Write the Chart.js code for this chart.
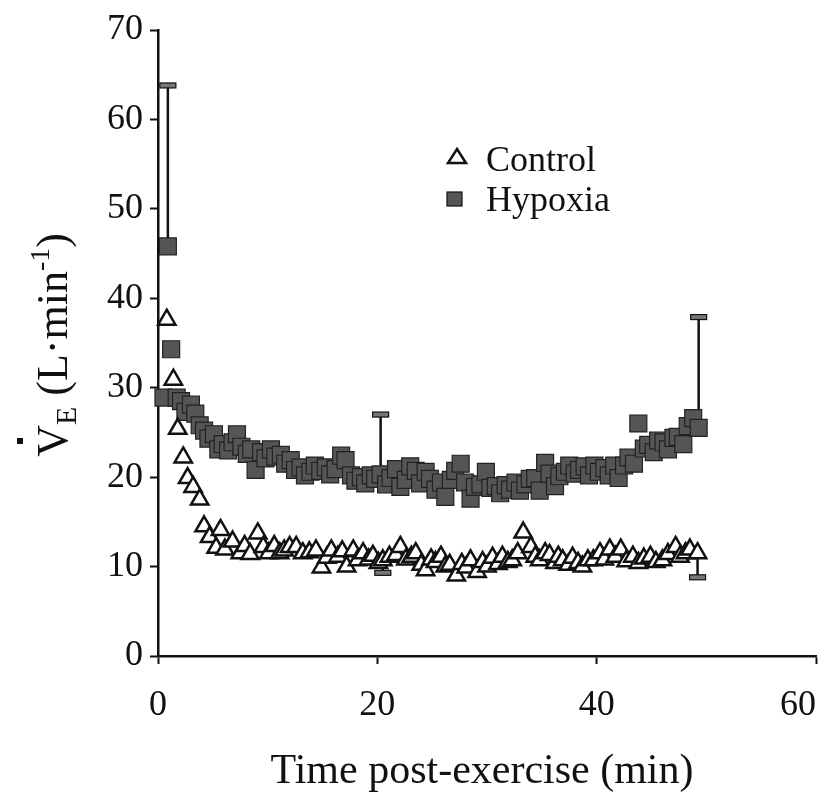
<!DOCTYPE html>
<html lang="en">
<head>
    <meta charset="UTF-8">
    <title>VE post-exercise</title>
    <script src="https://cdn.jsdelivr.net/npm/chart.js"></script>
    <style>
        body { margin: 0; background: #fff; }
    </style>
</head>
<body>
    <canvas id="veChart" width="832" height="805"></canvas>
    <script>
        // time after exercise (min) and ventilation (L/min)
        const controlTime = [0.8, 1.4, 1.8, 2.3, 2.7, 3.2, 3.8, 4.2, 4.7, 5.3, 5.7, 6.1, 6.8, 7.5, 7.9, 8.4, 9.1, 9.6, 10.1, 10.6,
            11.1, 11.5, 12.0, 12.6, 13.2, 13.8, 14.4, 14.9, 15.4, 15.8, 16.4, 16.8, 17.2, 17.8, 18.2, 18.7, 19.2, 19.6, 20.1, 20.5,
            21.1, 21.7, 22.1, 22.6, 23.1, 23.5, 24.0, 24.4, 24.9, 25.3, 25.8, 26.2, 26.6, 27.2, 27.7, 28.1, 28.5, 29.1, 29.6, 30.0,
            30.5, 31.0, 31.4, 31.9, 32.3, 32.8, 33.3, 34.0, 34.4, 34.8, 35.3, 35.7, 36.2, 36.5, 36.9, 37.4, 37.8, 38.3, 38.7, 39.2,
            39.7, 40.3, 40.7, 41.2, 41.7, 42.2, 42.7, 43.3, 43.8, 44.3, 44.9, 45.4, 46.0, 46.5, 47.2, 47.6, 48.1, 48.5, 49.2];
        const controlVE = [37.6, 30.9, 25.4, 22.2, 19.9, 18.9, 17.5, 14.5, 13.3, 12.1, 14.1, 11.9, 12.8, 11.5, 12.3, 11.4, 13.7, 12.2, 11.5, 12.3,
            11.5, 11.8, 12.2, 12.2, 11.5, 11.6, 11.8, 9.9, 11.0, 11.8, 11.1, 11.7, 10.0, 11.8, 10.7, 11.5, 10.8, 11.2, 10.4, 10.7,
            11.1, 11.3, 12.2, 10.8, 11.1, 11.5, 10.2, 9.6, 10.8, 10.5, 11.1, 10.0, 10.2, 9.0, 10.3, 9.9, 10.7, 9.4, 10.5, 10.0,
            11.0, 10.3, 11.1, 10.5, 10.7, 11.5, 13.8, 12.2, 11.1, 10.7, 11.5, 11.3, 10.4, 11.1, 10.7, 10.2, 11.0, 10.4, 10.0, 10.7,
            10.7, 11.5, 10.8, 11.9, 11.1, 11.9, 10.6, 11.1, 10.4, 10.9, 11.1, 10.5, 10.7, 11.4, 12.2, 11.1, 11.5, 11.9, 11.5];

        const hypoxiaTime = [0.5, 0.9, 1.2, 1.7, 2.1, 2.5, 3.0, 3.4, 3.8, 4.2, 4.6, 5.1, 5.5, 5.9, 6.4, 6.8, 7.2, 7.6, 8.1, 8.5,
            8.9, 9.4, 9.8, 10.3, 10.7, 11.2, 11.6, 12.1, 12.5, 13.0, 13.4, 13.9, 14.3, 14.8, 15.3, 15.7, 16.2, 16.7, 17.1, 17.6,
            18.0, 18.5, 18.9, 19.4, 19.8, 20.3, 20.8, 21.2, 21.7, 22.1, 22.6, 23.0, 23.5, 23.9, 24.4, 24.8, 25.3, 25.8, 26.2, 26.7,
            27.1, 27.6, 28.0, 28.5, 28.9, 29.4, 29.9, 30.3, 30.8, 31.2, 31.7, 32.1, 32.6, 33.0, 33.5, 33.9, 34.4, 34.8, 35.3, 35.7,
            36.2, 36.6, 37.1, 37.5, 38.0, 38.4, 38.9, 39.3, 39.8, 40.2, 40.7, 41.1, 41.6, 42.0, 42.5, 42.9, 43.4, 43.8, 44.3, 44.7,
            45.2, 45.6, 46.1, 46.5, 47.0, 47.4, 47.9, 48.3, 48.8, 49.3];
        const hypoxiaVE = [28.9, 45.8, 34.3, 28.9, 28.5, 27.3, 28.1, 27.1, 25.8, 25.2, 24.3, 24.8, 23.1, 23.7, 23.0, 23.9, 24.8, 23.4, 22.6, 23.1,
            20.8, 22.8, 22.1, 23.1, 22.3, 22.5, 21.5, 21.9, 20.8, 21.1, 20.2, 20.6, 21.3, 20.7, 21.1, 20.3, 20.9, 22.4, 21.9, 20.2,
            19.6, 20.0, 19.3, 20.2, 19.8, 20.3, 19.2, 19.9, 20.9, 18.9, 19.7, 21.2, 20.7, 19.3, 20.6, 19.8, 18.6, 19.4, 17.8, 19.7,
            20.7, 21.5, 19.4, 17.6, 18.9, 19.2, 20.6, 18.8, 19.0, 18.2, 19.1, 18.6, 19.4, 18.5, 19.2, 19.8, 19.9, 18.5, 21.6, 20.4,
            19.0, 20.1, 20.6, 21.3, 20.4, 20.8, 21.2, 20.2, 21.3, 20.6, 21.0, 20.2, 21.3, 19.9, 21.3, 22.2, 21.5, 26.0, 23.2, 23.6,
            22.8, 24.1, 23.9, 23.1, 24.4, 24.5, 23.7, 25.7, 26.6, 25.5];

        // SE bars: hypoxia upward, control downward
        const hypoxiaErrTime = [0.9, 20.3, 49.3];
        const hypoxiaErrEnd = [63.8, 27.0, 37.9];
        const controlErrTime = [20.5, 49.2];
        const controlErrEnd = [9.3, 8.8];

        const xTicks = [0, 20, 40, 60];
        const yTicks = [0, 10, 20, 30, 40, 50, 60, 70];

        const serif = "'Liberation Serif', 'Times New Roman', serif";

        const errorBars = {
            id: 'errorBars',
            beforeDatasetsDraw(chart) {
                const { ctx } = chart;
                const xs = chart.scales.x, ys = chart.scales.y;
                const sets = [
                    [hypoxiaTime, hypoxiaVE, hypoxiaErrTime, hypoxiaErrEnd],
                    [controlTime, controlVE, controlErrTime, controlErrEnd]
                ];
                ctx.save();
                sets.forEach(([times, vals, eTimes, eEnds]) => {
                    eTimes.forEach((t, i) => {
                        const base = vals[times.indexOf(t)];
                        const px = xs.getPixelForValue(t);
                        const y0 = ys.getPixelForValue(base);
                        const y1 = ys.getPixelForValue(eEnds[i]);
                        ctx.strokeStyle = '#111';
                        ctx.lineWidth = 2.5;
                        ctx.beginPath();
                        ctx.moveTo(px, y0);
                        ctx.lineTo(px, y1);
                        ctx.stroke();
                        ctx.fillStyle = '#777';
                        ctx.lineWidth = 1.2;
                        ctx.fillRect(px - 8, y1 - 2.5, 16, 5);
                        ctx.strokeRect(px - 8, y1 - 2.5, 16, 5);
                    });
                });
                ctx.restore();
            }
        };

        const annotations = {
            id: 'annotations',
            afterDraw(chart) {
                const { ctx } = chart;
                ctx.save();
                ctx.fillStyle = '#111';

                // x axis title
                ctx.font = `42px ${serif}`;
                ctx.textAlign = 'center';
                ctx.textBaseline = 'middle';
                ctx.fillText('Time post-exercise (min)', 482, 772);

                // y axis title, rotated: V(dot)E (L·min-1)
                const parts = [
                    { t: 'V', size: 44, dy: 0 },
                    { t: 'E', size: 30, dy: 9 },
                    { t: ' (L\u00B7min', size: 44, dy: 0 },
                    { t: '-1', size: 28, dy: -18 },
                    { t: ')', size: 44, dy: 0 }
                ];
                let total = 0;
                parts.forEach(p => {
                    ctx.font = `${p.size}px ${serif}`;
                    p.w = ctx.measureText(p.t).width;
                    total += p.w;
                });
                ctx.translate(67, 345);
                ctx.rotate(-Math.PI / 2);
                ctx.textAlign = 'left';
                ctx.textBaseline = 'alphabetic';
                let cx = -total / 2;
                parts.forEach((p, i) => {
                    ctx.font = `${p.size}px ${serif}`;
                    ctx.fillText(p.t, cx, p.dy);
                    if (i === 0) {
                        ctx.fillRect(cx + p.w / 2 - 3, -50, 6, 6);
                    }
                    cx += p.w;
                });
                ctx.restore();

                // legend
                ctx.save();
                ctx.font = `36px ${serif}`;
                ctx.textAlign = 'left';
                ctx.textBaseline = 'alphabetic';
                ctx.fillStyle = '#111';
                ctx.fillText('Control', 486, 171);
                ctx.fillText('Hypoxia', 486, 211);
                ctx.lineWidth = 2.5;
                ctx.strokeStyle = '#111';
                ctx.fillStyle = '#fff';
                ctx.beginPath();
                ctx.moveTo(457, 149);
                ctx.lineTo(466, 163);
                ctx.lineTo(448, 163);
                ctx.closePath();
                ctx.fill();
                ctx.stroke();
                ctx.fillStyle = '#555';
                ctx.lineWidth = 1.2;
                ctx.fillRect(447, 192, 15, 14);
                ctx.strokeRect(447, 192, 15, 14);
                ctx.restore();
            }
        };

        const whiteBg = {
            id: 'whiteBg',
            beforeDraw(chart) {
                const { ctx, width, height } = chart;
                ctx.save();
                ctx.fillStyle = '#fff';
                ctx.fillRect(0, 0, width, height);
                ctx.restore();
            }
        };

        const ctx = document.getElementById('veChart').getContext('2d');
        const chart = new Chart(ctx, {
            type: 'scatter',
            data: {
                datasets: [
                    {
                        label: 'Control',
                        data: controlTime.map((t, i) => ({ x: t, y: controlVE[i] })),
                        pointStyle: 'triangle',
                        pointRadius: 10,
                        backgroundColor: '#fff',
                        borderColor: '#111',
                        borderWidth: 2.5,
                        clip: false
                    },
                    {
                        label: 'Hypoxia',
                        data: hypoxiaTime.map((t, i) => ({ x: t, y: hypoxiaVE[i] })),
                        pointStyle: 'rect',
                        pointRadius: 12,
                        backgroundColor: '#555',
                        borderColor: '#222',
                        borderWidth: 1.2,
                        clip: false
                    }
                ]
            },
            options: {
                responsive: false,
                animation: false,
                events: [],
                layout: { padding: { left: 0, right: 16, top: 30, bottom: 0 } },
                plugins: {
                    legend: { display: false },
                    tooltip: { enabled: false }
                },
                scales: {
                    x: {
                        type: 'linear',
                        min: 0,
                        max: 60,
                        afterBuildTicks: scale => { scale.ticks = xTicks.map(v => ({ value: v })); },
                        afterFit: scale => {
                            scale.height = 149;
                            scale.paddingLeft = 0;
                            scale.paddingRight = 0;
                        },
                        border: { color: '#111', width: 2.5 },
                        grid: { drawOnChartArea: false, drawTicks: true, tickLength: 8, tickWidth: 2, tickColor: '#111' },
                        ticks: {
                            color: '#111',
                            padding: 20,
                            font: { family: serif, size: 36 },
                            // last label sits at the canvas edge, nudge it left with a trailing space
                            callback: v => v === 60 ? '60\u2003' : String(v)
                        }
                    },
                    y: {
                        type: 'linear',
                        min: 0,
                        max: 70,
                        afterBuildTicks: scale => { scale.ticks = yTicks.map(v => ({ value: v })); },
                        afterFit: scale => {
                            scale.width = 158;
                            scale.paddingTop = 0;
                            scale.paddingBottom = 0;
                        },
                        border: { color: '#111', width: 2.5 },
                        grid: { drawOnChartArea: false, drawTicks: true, tickLength: 8, tickWidth: 2, tickColor: '#111' },
                        ticks: { color: '#111', padding: 7, font: { family: serif, size: 36 } }
                    }
                }
            },
            plugins: [whiteBg, errorBars, annotations]
        });
    </script>
</body>
</html>
